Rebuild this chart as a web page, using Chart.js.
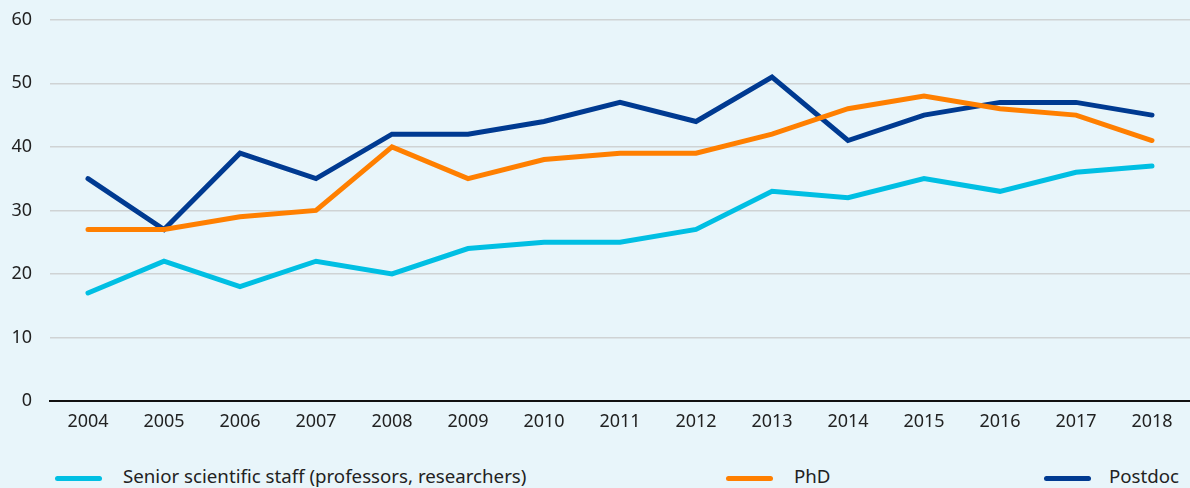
<!DOCTYPE html>
<html lang="en">
<head>
    <meta charset="UTF-8">
    <title>Share by staff category</title>
    <script src="https://cdn.jsdelivr.net/npm/chart.js"></script>
    <style>
        body {
            margin: 0;
            padding: 0;
            background-color: #e8f5fa;
            font-family: 'Noto Sans', sans-serif;
            overflow: hidden;
        }
        .wrap {
            position: relative;
            width: 1190px;
            height: 488px;
            overflow: hidden;
        }
        .chart-box {
            position: absolute;
            left: 0;
            top: -9px;
            width: 1190px;
            height: 449px;
        }
        .legend-item {
            position: absolute;
            top: 463px;
            font-size: 18.7px;
            color: #222;
            white-space: nowrap;
        }
        .legend-item span.swatch {
            position: absolute;
            top: 13px;
            width: 47px;
            height: 5px;
            border-radius: 3px;
        }
    </style>
</head>
<body>
    <div class="wrap">
        <div class="chart-box">
            <canvas id="trendChart" width="1190" height="449"></canvas>
        </div>
        <div id="legend"></div>
    </div>

    <script>
        // years on the x axis
        const years = ['2004', '2005', '2006', '2007', '2008', '2009', '2010', '2011',
                       '2012', '2013', '2014', '2015', '2016', '2017', '2018'];

        // series values
        const seniorStaff = [17, 22, 18, 22, 20, 24, 25, 25, 27, 33, 32, 35, 33, 36, 37];
        const phd         = [27, 27, 29, 30, 40, 35, 38, 39, 39, 42, 46, 48, 46, 45, 41];
        const postdoc     = [35, 27, 39, 35, 42, 42, 44, 47, 44, 51, 41, 45, 47, 47, 45];

        const seriesNames  = ['Senior scientific staff (professors, researchers)', 'PhD', 'Postdoc'];
        const seriesColors = ['#00bfe3', '#ff7f00', '#003a91'];

        // legend positions (swatch left, text left)
        const legendPos = [[55, 123], [726, 794], [1044, 1109]];

        const seriesData = [seniorStaff, phd, postdoc];

        const data = {
            labels: years,
            datasets: seriesData.map((vals, i) => ({
                label: seriesNames[i],
                data: vals,
                borderColor: seriesColors[i],
                backgroundColor: seriesColors[i],
                borderWidth: 5,
                borderCapStyle: 'round',
                borderJoinStyle: 'miter',
                pointRadius: 0,
                tension: 0,
                fill: false
            }))
        };

        const config = {
            type: 'line',
            data: data,
            options: {
                responsive: false,
                animation: false,
                layout: {
                    padding: { top: 9, right: 0, left: 0, bottom: 0 }
                },
                plugins: {
                    legend: { display: false },
                    tooltip: { enabled: false }
                },
                scales: {
                    x: {
                        offset: true,
                        grid: { display: false, drawTicks: false },
                        border: { color: '#111', width: 2 },
                        ticks: {
                            color: '#222',
                            padding: 10,
                            maxRotation: 0,
                            font: { family: 'Noto Sans', size: 18 }
                        },
                        afterFit: (scale) => { scale.height = 39; }
                    },
                    y: {
                        min: 0,
                        max: 60,
                        ticks: {
                            stepSize: 10,
                            color: '#222',
                            padding: 18,
                            font: { family: 'Noto Sans', size: 18 }
                        },
                        grid: {
                            drawTicks: false,
                            color: (ctx) => ctx.tick && ctx.tick.value === 0 ? 'rgba(0,0,0,0)' : '#cfd3d4',
                            lineWidth: 1.5
                        },
                        border: { display: false },
                        afterFit: (scale) => { scale.width = 50; }
                    }
                }
            }
        };

        const trendChart = new Chart(document.getElementById('trendChart'), config);

        // html legend built from the series arrays
        const legend = document.getElementById('legend');
        seriesNames.forEach((name, i) => {
            const item = document.createElement('div');
            item.className = 'legend-item';
            item.style.left = legendPos[i][0] + 'px';
            item.style.paddingLeft = (legendPos[i][1] - legendPos[i][0]) + 'px';
            const sw = document.createElement('span');
            sw.className = 'swatch';
            sw.style.left = '0px';
            sw.style.background = seriesColors[i];
            item.appendChild(sw);
            item.appendChild(document.createTextNode(name));
            legend.appendChild(item);
        });
    </script>
</body>
</html>
